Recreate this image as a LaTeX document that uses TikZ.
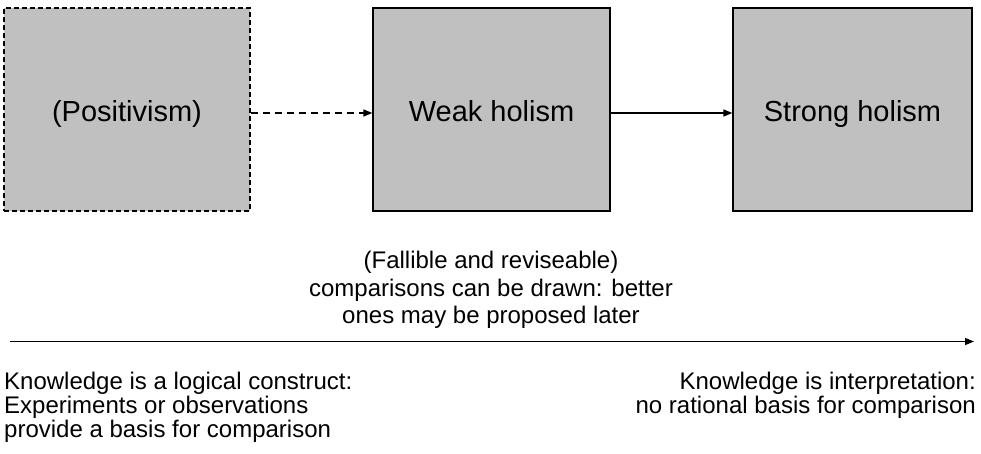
\documentclass[tikz,border=0pt]{standalone}
\usepackage{fontspec}
\setmainfont{Liberation Sans}
\usetikzlibrary{arrows.meta}
\definecolor{boxfill}{RGB}{192,192,192}
\begin{document}
\begin{tikzpicture}[x=1pt,y=-1pt,
  stagebox/.style={draw=black, line width=1.3pt, fill=boxfill, inner sep=0pt,
    text height=24pt, text depth=0pt, font=\fontsize{29}{33}\selectfont},
  tip/.style={-{Triangle[length=9pt,width=7pt]}, line width=1.4pt},
  caption/.style={inner sep=0pt, font=\fontsize{24}{24}\selectfont}]
\useasboundingbox (0,0) rectangle (981,454);

% the three stages
\node[stagebox, dashed, dash pattern=on 5pt off 3pt, minimum width=246pt, minimum height=203pt]
  (pos) at (127,109.5) {(Positivism)};
\node[stagebox, minimum width=237pt, minimum height=203pt]
  (weak) at (491.5,109.5) {Weak holism};
\node[stagebox, minimum width=239pt, minimum height=203pt]
  (strong) at (852.5,109.5) {Strong holism};

\draw[tip, dashed, dash pattern=on 7pt off 5pt] ([yshift=-3.5pt]pos.east) -- ([yshift=-3.5pt]weak.west);
\draw[tip] ([yshift=-3.5pt]weak.east) -- ([yshift=-3.5pt]strong.west);

% middle note
\node[caption, align=center, font=\fontsize{24}{27.5}\selectfont] (note) at (491,290)
  {(Fallible and reviseable)\\comparisons can be drawn: better\\ones may be proposed later};

% the spectrum axis
\coordinate (axL) at (10,341.5);
\coordinate (axR) at (974,341.5);
\draw[tip] (axL) -- (axR);

% the two ends of the spectrum
\node[caption, align=left, anchor=west] (left) at (4,407)
  {Knowledge is a logical construct:\\Experiments or observations\\provide a basis for comparison};
\node[caption, align=right, anchor=east] (right) at (976,395)
  {Knowledge is interpretation:\\no rational basis for comparison};
\end{tikzpicture}
\end{document}
